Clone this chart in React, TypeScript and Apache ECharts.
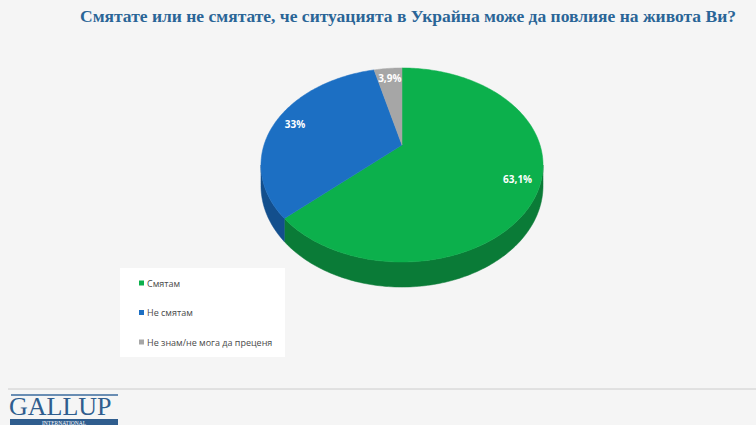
import React, { useEffect, useRef } from "react";
import * as echarts from "echarts";

const TITLE = "Смятате или не смятате, че ситуацията в Украйна може да повлияе на живота Ви?";
const categories = ["Смятам", "Не смятам", "Не знам/не мога да преценя"];
const values = [63.1, 33, 3.9];
const valueLabels = ["63,1%", "33%", "3,9%"];
const topColors = ["#0cb04c", "#1c6fc3", "#a6a6a6"];
const sideColors = ["#0a7b37", "#134f8d", "#7b7b7b"];

// perspective pie geometry (styles, not data)
const CX = 402;
const CY = 145;
const A = 92.9;
const B = 138;
const K = 0.206;
const DEPTH = 19.9;
const LABEL_F = 0.85;

function project(u: number, v: number, z: number): number[] {
  const d = 1 - K * v;
  return [CX + (B * u) / d, CY + (A * v + z) / d];
}
function rim(theta: number, z: number): number[] {
  return project(Math.sin(theta), -Math.cos(theta), z);
}

export default function App() {
  const ref = useRef<HTMLDivElement>(null);
  useEffect(() => {
    if (!ref.current) return;
    const chart = echarts.init(ref.current, null, { renderer: "svg" });
    const total = values.reduce((a, b) => a + b, 0);
    const sideFrom = Math.PI / 2 + Math.asin(K);
    const sideTo = (Math.PI * 3) / 2 - Math.asin(K);

    const renderItem = (params: any, api: any) => {
      const idx = params.dataIndex;
      let before = 0;
      for (let i = 0; i < idx; i++) before += values[i];
      const val = api.value(0);
      const start = (before / total) * Math.PI * 2;
      const end = ((before + val) / total) * Math.PI * 2;
      const steps = Math.max(4, Math.ceil(((end - start) * 180) / Math.PI));
      const top: number[][] = [project(0, 0, 0)];
      for (let s = 0; s <= steps; s++) {
        top.push(rim(start + ((end - start) * s) / steps, 0));
      }
      const children: any[] = [];
      const a = Math.max(start, sideFrom);
      const b = Math.min(end, sideTo);
      if (b > a) {
        const n = Math.max(4, Math.ceil(((b - a) * 180) / Math.PI));
        const pts: number[][] = [];
        for (let s = 0; s <= n; s++) pts.push(rim(a + ((b - a) * s) / n, 0));
        for (let s = n; s >= 0; s--) pts.push(rim(a + ((b - a) * s) / n, DEPTH));
        children.push({
          type: "polygon",
          shape: { points: pts },
          style: { fill: sideColors[idx], stroke: sideColors[idx], lineWidth: 0.5 },
        });
      }
      children.push({
        type: "polygon",
        shape: { points: top },
        style: { fill: topColors[idx], stroke: topColors[idx], lineWidth: 0.5 },
      });
      const mid = (start + end) / 2;
      const lp = project(LABEL_F * Math.sin(mid), -LABEL_F * Math.cos(mid), 0);
      children.push({
        type: "text",
        x: lp[0],
        y: lp[1],
        z2: 10,
        style: {
          text: valueLabels[idx],
          fill: "#ffffff",
          fontSize: 10,
          fontWeight: "bold",
          fontFamily: "'Open Sans', 'DejaVu Sans', sans-serif",
          align: "center",
          verticalAlign: "middle",
        },
      });
      return { type: "group", children };
    };

    const legendChildren: any[] = [
      { type: "rect", shape: { x: 120, y: 268, width: 165, height: 89 }, style: { fill: "#ffffff" } },
    ];
    categories.forEach((c, i) => {
      const y = 283 + i * 29.5;
      legendChildren.push({
        type: "rect",
        shape: { x: 139, y: y - 2.5, width: 5, height: 5 },
        style: { fill: topColors[i] },
      });
      legendChildren.push({
        type: "text",
        x: 147,
        y,
        style: {
          text: c,
          fill: "#4a4a4a",
          fontSize: 9,
          fontFamily: "'Open Sans', 'DejaVu Sans', sans-serif",
          verticalAlign: "middle",
        },
      });
    });

    chart.setOption({
      animation: false,
      backgroundColor: "#f5f5f5",
      title: {
        text: TITLE,
        left: 403,
        textAlign: "center",
        top: 2,
        textStyle: {
          fontSize: 17.5,
          fontWeight: "bold",
          fontFamily: "'Liberation Serif', serif",
          color: "#2a6597",
        },
      },
      series: [
        {
          type: "custom",
          coordinateSystem: "none",
          renderItem,
          data: values.map((v, i) => ({ value: v, name: categories[i] })),
        },
      ],
      graphic: [
        ...legendChildren,
        { type: "line", shape: { x1: 8, y1: 389, x2: 756, y2: 389 }, style: { stroke: "#cccccc", lineWidth: 1 } },
        { type: "line", shape: { x1: 11, y1: 395, x2: 118, y2: 395 }, style: { stroke: "#3a6a9c", lineWidth: 1.5 } },
        {
          type: "text",
          x: 9,
          y: 406,
          style: {
            text: "GALLUP",
            fill: "#2f5d8e",
            fontSize: 26,
            fontFamily: "'Liberation Serif', serif",
            verticalAlign: "middle",
          },
        },
        { type: "rect", shape: { x: 10, y: 419, width: 108, height: 6 }, style: { fill: "#2f5d8e" } },
        {
          type: "text",
          x: 64,
          y: 419.5,
          style: {
            text: "INTERNATIONAL",
            fill: "#ffffff",
            fontSize: 5.5,
            fontFamily: "'Liberation Serif', serif",
            align: "center",
            verticalAlign: "top",
          },
        },
      ],
    });
    return () => chart.dispose();
  }, []);
  return (
    <div
      ref={ref}
      style={{ position: "absolute", left: 0, top: 0, width: 756, height: 425 }}
    />
  );
}
